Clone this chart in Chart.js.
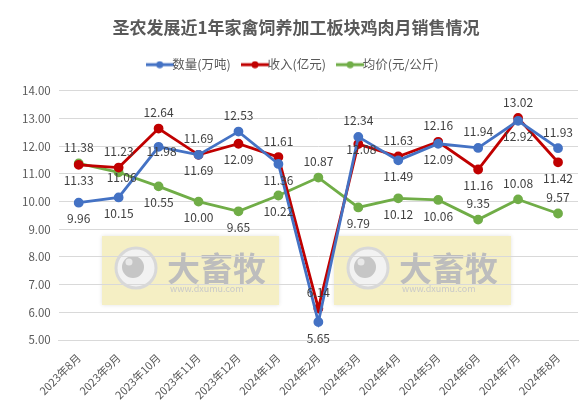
<!DOCTYPE html>
<html>
<head>
<meta charset="utf-8">
<script src="https://cdn.jsdelivr.net/npm/chart.js@4/dist/chart.umd.min.js"></script>
<style>
  html, body { margin: 0; padding: 0; background: #fff; }
  #c { display: block; }
</style>
</head>
<body>
<canvas id="c" width="587" height="415"></canvas>
<script>
// 月份
const months = ['2023年8月', '2023年9月', '2023年10月', '2023年11月', '2023年12月', '2024年1月',
  '2024年2月', '2024年3月', '2024年4月', '2024年5月', '2024年6月', '2024年7月', '2024年8月'];
// 数量(万吨)
const volume = [9.96, 10.15, 11.98, 11.69, 12.53, 11.36, 5.65, 12.34, 11.49, 12.09, 11.94, 12.92, 11.93];
// 收入(亿元)
const revenue = [11.33, 11.23, 12.64, 11.69, 12.09, 11.61, 6.14, 12.08, 11.63, 12.16, 11.16, 13.02, 11.42];
// 均价(元/公斤)
const price = [11.38, 11.06, 10.55, 10.00, 9.65, 10.22, 10.87, 9.79, 10.12, 10.06, 9.35, 10.08, 9.57];
const yTicks = [5, 6, 7, 8, 9, 10, 11, 12, 13, 14];

const FONT = '"Noto Sans CJK SC", "Noto Sans", sans-serif';
const BLUE = '#4472C4', RED = '#C00000', GREEN = '#70AD47';

// 标签位置: a 上方, b 下方, c 贴近点
const labelPos = [
  ['b', 'b', 'c', 'b', 'a', 'b', 'b', 'a', 'b', 'b', 'a', 'b', 'a'],
  ['b', 'a', 'a', 'a', 'b', 'a', 'a', 'c', 'a', 'a', 'b', 'a', 'b'],
  ['a', 'c', 'b', 'b', 'b', 'b', 'a', 'b', 'b', 'b', 'a', 'a', 'a']
];

// 图例小图标: 线段 + 圆点
function legendIcon(color) {
  const cv = document.createElement('canvas');
  cv.width = 28; cv.height = 8;
  const g = cv.getContext('2d');
  g.strokeStyle = color; g.lineWidth = 3;
  g.beginPath(); g.moveTo(0, 4); g.lineTo(28, 4); g.stroke();
  g.fillStyle = color;
  g.beginPath(); g.arc(14, 4, 3.5, 0, Math.PI * 2); g.fill();
  return cv;
}

// 图例下方多留一点空
const legendSpace = {
  id: 'legendSpace',
  beforeInit(chart) {
    const fit = chart.legend.fit;
    chart.legend.fit = function () {
      fit.call(this);
      this.height += 10;
    };
  }
};

// 水印
const watermark = {
  id: 'watermark',
  beforeDraw(chart) {
    const ctx = chart.ctx;
    [0, 232].forEach(dx => {
      ctx.save();
      ctx.shadowColor = 'rgba(0,0,0,0.12)';
      ctx.shadowBlur = 4;
      ctx.fillStyle = '#F5EFC4';
      ctx.fillRect(102 + dx, 236, 177, 69);
      ctx.shadowBlur = 0;
      ctx.strokeStyle = '#D8D8D8';
      ctx.lineWidth = 3;
      ctx.fillStyle = '#F2F2F2';
      ctx.beginPath(); ctx.arc(136 + dx, 268, 20, 0, Math.PI * 2); ctx.fill(); ctx.stroke();
      ctx.fillStyle = '#C6C6C6';
      ctx.beginPath(); ctx.arc(133 + dx, 267, 11, 0, Math.PI * 2); ctx.fill();
      ctx.fillStyle = '#E8E8E8';
      ctx.beginPath(); ctx.arc(129 + dx, 262, 3.5, 0, Math.PI * 2); ctx.fill();
      ctx.fillStyle = '#BDBDBD';
      ctx.font = 'bold 33px ' + FONT;
      ctx.textAlign = 'left';
      ctx.textBaseline = 'alphabetic';
      ctx.fillText('大畜牧', 167 + dx, 281);
      ctx.fillStyle = '#C9C9C9';
      ctx.font = '9px ' + FONT;
      ctx.fillText('www.dxumu.com', 170 + dx, 292);
      ctx.restore();
    });
  }
};

// 数据标签
const dataLabels = {
  id: 'dataLabels',
  afterDatasetsDraw(chart) {
    const ctx = chart.ctx;
    ctx.save();
    ctx.font = '12px ' + FONT;
    ctx.fillStyle = '#404040';
    ctx.textAlign = 'center';
    ctx.textBaseline = 'middle';
    chart.data.datasets.forEach((ds, i) => {
      const meta = chart.getDatasetMeta(i);
      meta.data.forEach((pt, j) => {
        const p = labelPos[i][j];
        const dy = p === 'a' ? -16 : p === 'b' ? 16 : 5;
        const dx = p === 'c' ? 3 : 0;
        ctx.fillText(ds.data[j].toFixed(2), pt.x + dx, pt.y + dy);
      });
    });
    ctx.restore();
  }
};

function series(label, data, color) {
  return {
    label, data,
    borderColor: color, backgroundColor: color,
    borderWidth: 2.8,
    pointStyle: 'circle',
    pointRadius: 3.5, pointHoverRadius: 3.5,
    pointBackgroundColor: color, pointBorderColor: color,
    tension: 0
  };
}

const chart = new Chart(document.getElementById('c'), {
  type: 'line',
  data: {
    labels: months,
    datasets: [
      series('数量(万吨)', volume, BLUE),
      series('收入(亿元)', revenue, RED),
      series('均价(元/公斤)', price, GREEN)
    ]
  },
  options: {
    responsive: false,
    animation: false,
    devicePixelRatio: 1,
    layout: { padding: { left: 14, right: 9, top: 0, bottom: 0 } },
    plugins: {
      title: {
        display: true,
        text: '圣农发展近1年家禽饲养加工板块鸡肉月销售情况',
        color: '#595959',
        font: { family: FONT, size: 17, weight: 'bold' },
        padding: { top: 17, bottom: 3 }
      },
      legend: {
        display: true,
        labels: {
          usePointStyle: true,
          color: '#595959',
          font: { family: FONT, size: 12.5 },
          padding: 18,
          generateLabels(chart) {
            return chart.data.datasets.map((ds, i) => ({
              text: ds.label,
              fillStyle: ds.borderColor,
              strokeStyle: ds.borderColor,
              pointStyle: legendIcon(ds.borderColor),
              fontColor: '#595959',
              datasetIndex: i,
              hidden: false
            }));
          }
        }
      },
      tooltip: { enabled: false }
    },
    scales: {
      x: {
        offset: true,
        grid: { display: false },
        border: { color: '#D9D9D9' },
        afterFit(axis) { axis.height = 75; },
        ticks: {
          color: '#595959',
          font: { family: FONT, size: 11 },
          maxRotation: 45, minRotation: 45,
          autoSkip: false
        }
      },
      y: {
        min: 5, max: 14,
        afterBuildTicks(axis) { axis.ticks = yTicks.map(v => ({ value: v })); },
        grid: { color: '#D9D9D9', drawTicks: false },
        border: { display: false },
        ticks: {
          color: '#595959',
          font: { family: FONT, size: 11.5 },
          padding: 8,
          callback: v => Number(v).toFixed(2)
        }
      }
    }
  },
  plugins: [legendSpace, watermark, dataLabels]
});
</script>
</body>
</html>
